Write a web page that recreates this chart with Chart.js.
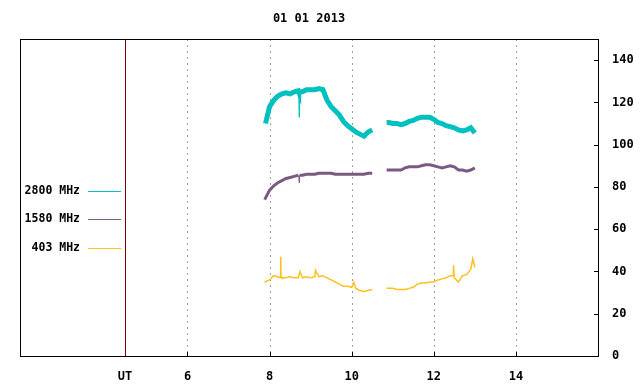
<!DOCTYPE html>
<html>
<head>
<meta charset="utf-8">
<script src="https://cdn.jsdelivr.net/npm/chart.js@4.4.0/dist/chart.umd.min.js"></script>
<style>
  body { margin: 0; background: #fff; }
</style>
</head>
<body>
<canvas id="radioChart" width="640" height="384"></canvas>
<script>
const chartTitle = '01 01 2013';

// x ticks (UT hours); first one is the "UT" marker line
const utHour = 4.48;
const xTicks = [utHour, 6, 8, 10, 12, 14];
const yTicks = [0, 20, 40, 60, 80, 100, 120, 140];

const labels = ['2800 MHz', '1580 MHz', '403 MHz'];
const colors = ['#00c0c0', '#7a5a80', '#ffc020'];

// 2800 MHz
const t2800 = [7.9, 8.0, 8.1, 8.2, 8.3, 8.4, 8.5, 8.6, 8.7, 8.71, 8.72, 8.73, 8.8, 8.9, 9.0, 9.1, 9.2, 9.3, 9.4, 9.5, 9.6, 9.7, 9.8, 9.9, 10.0, 10.1, 10.2, 10.3, 10.4, 10.5,
  10.7,
  10.85, 10.9, 11.0, 11.1, 11.2, 11.3, 11.4, 11.5, 11.6, 11.7, 11.8, 11.9, 12.0, 12.1, 12.2, 12.3, 12.4, 12.5, 12.6, 12.7, 12.8, 12.9, 13.0];
const v2800 = [110, 118, 121, 123, 124, 124.5, 124, 125, 125.5, 125, 113, 125, 125, 126, 126, 126, 126.5, 126, 121, 118, 116, 114, 111, 109, 107.5, 106, 105, 104, 106, 107,
  null,
  110.5, 110.5, 110, 110, 109.5, 110, 111, 111.5, 112.5, 113, 113, 113, 112, 110.5, 110, 109, 108.5, 108, 107, 106.5, 107, 108, 105.5];

// 1580 MHz
const t1580 = [7.88, 8.0, 8.1, 8.2, 8.3, 8.4, 8.5, 8.6, 8.7, 8.71, 8.72, 8.73, 8.8, 8.9, 9.0, 9.1, 9.2, 9.3, 9.4, 9.5, 9.6, 9.7, 9.8, 9.9, 10.0, 10.1, 10.2, 10.3, 10.4, 10.5,
  10.7,
  10.85, 11.0, 11.1, 11.2, 11.3, 11.4, 11.5, 11.6, 11.7, 11.8, 11.9, 12.0, 12.1, 12.2, 12.3, 12.4, 12.5, 12.6, 12.7, 12.8, 12.9, 13.0];
const v1580 = [74, 78.5, 80.5, 82, 83, 84, 84.5, 85, 85.5, 85.5, 82, 85.5, 85.5, 86, 86, 86, 86.5, 86.5, 86.5, 86.5, 86, 86, 86, 86, 86, 86, 86, 86, 86.5, 86.5,
  null,
  88, 88, 88, 88, 89, 89.5, 89.5, 89.5, 90, 90.5, 90.5, 90, 89.5, 89, 89.5, 90, 89.5, 88, 88, 87.5, 88, 89];

// 403 MHz
const t403 = [7.88, 8.0, 8.1, 8.2, 8.26, 8.27, 8.28, 8.3, 8.4, 8.5, 8.6, 8.7, 8.74, 8.8, 8.9, 9.0, 9.1, 9.12, 9.2, 9.3, 9.4, 9.5, 9.6, 9.7, 9.8, 9.9, 10.0, 10.05, 10.1, 10.2, 10.3, 10.4, 10.5,
  10.7,
  10.85, 11.0, 11.1, 11.2, 11.3, 11.4, 11.5, 11.6, 11.7, 11.8, 11.9, 12.0, 12.1, 12.2, 12.3, 12.4, 12.47, 12.48, 12.5, 12.6, 12.7, 12.8, 12.9, 12.95, 13.0];
const v403 = [35, 36, 38, 37.5, 37, 47, 37.5, 37, 37, 37.5, 37, 37, 40, 37, 37.5, 37, 37.5, 40.5, 37.5, 38, 37, 36, 35, 34, 33, 33, 32.5, 35, 32, 31, 30.5, 31, 31.5,
  null,
  32, 32, 31.5, 31.5, 31.5, 32, 32.5, 34, 34.5, 34.5, 35, 35, 36, 36.5, 37, 38, 38, 43, 37, 35, 38, 38.5, 41, 46, 42];

const toPoints = (ts, vs) => ts.map((t, i) => ({ x: t, y: vs[i] }));

// spikes (steep, short segments) are drawn thin, the noisy band thick
const bandWidth = (wide) => (c) => {
    const dy = Math.abs(c.p1.parsed.y - c.p0.parsed.y);
    const dx = Math.abs(c.p1.parsed.x - c.p0.parsed.x) || 0.001;
    return dy / dx > 150 ? 1 : wide;
};

const monoFont = { family: 'DejaVu Sans Mono', size: 12, weight: 'bold' };

// grid, frame, title and legend in the gnuplot look
const gnuplotLook = {
    id: 'gnuplotLook',
    beforeDatasetsDraw(chart) {
        const { ctx, chartArea: a, scales } = chart;
        ctx.save();
        ctx.lineWidth = 1;
        xTicks.forEach(v => {
            const x = Math.round(scales.x.getPixelForValue(v)) + 0.5;
            ctx.beginPath();
            if (v === utHour) {
                ctx.strokeStyle = '#800000';
                ctx.setLineDash([]);
            } else {
                ctx.strokeStyle = '#a0a0a0';
                ctx.setLineDash([2, 4]);
            }
            ctx.moveTo(x, a.top);
            ctx.lineTo(x, a.bottom);
            ctx.stroke();
        });
        ctx.restore();
    },
    afterDraw(chart) {
        const { ctx, chartArea: a, scales } = chart;
        ctx.save();
        ctx.strokeStyle = '#000';
        ctx.lineWidth = 1;
        ctx.setLineDash([]);
        ctx.strokeRect(Math.round(a.left) + 0.5, Math.round(a.top) + 0.5,
            Math.round(a.right - a.left), Math.round(a.bottom - a.top));

        // inward ticks
        ctx.beginPath();
        yTicks.forEach(v => {
            const y = Math.round(scales.y.getPixelForValue(v)) + 0.5;
            ctx.moveTo(a.right - 4, y);
            ctx.lineTo(a.right, y);
        });
        xTicks.forEach(v => {
            if (v === utHour) return;
            const x = Math.round(scales.x.getPixelForValue(v)) + 0.5;
            ctx.moveTo(x, a.bottom - 4);
            ctx.lineTo(x, a.bottom);
        });
        ctx.stroke();

        ctx.fillStyle = '#000';
        ctx.font = 'bold 12px "DejaVu Sans Mono"';
        ctx.textBaseline = 'middle';
        ctx.textAlign = 'center';
        ctx.fillText(chartTitle, (a.left + a.right) / 2, 19);

        // legend
        const legendY = [191, 219, 248];
        ctx.font = 'bold 11.5px "DejaVu Sans Mono"';
        ctx.textAlign = 'right';
        labels.forEach((lab, i) => {
            ctx.fillStyle = '#000';
            ctx.fillText(lab, 80, legendY[i]);
            ctx.strokeStyle = colors[i];
            ctx.beginPath();
            ctx.moveTo(88, legendY[i] + 0.5);
            ctx.lineTo(121, legendY[i] + 0.5);
            ctx.stroke();
        });
        ctx.restore();
    }
};

const ctx = document.getElementById('radioChart').getContext('2d');

new Chart(ctx, {
    type: 'line',
    data: {
        datasets: [
            { label: labels[0], data: toPoints(t2800, v2800), borderColor: colors[0], borderWidth: 5,
              segment: { borderWidth: bandWidth(5) } },
            { label: labels[1], data: toPoints(t1580, v1580), borderColor: colors[1], borderWidth: 3,
              segment: { borderWidth: bandWidth(3) } },
            { label: labels[2], data: toPoints(t403, v403), borderColor: colors[2], borderWidth: 1.5 }
        ]
    },
    options: {
        responsive: false,
        animation: false,
        spanGaps: false,
        elements: {
            point: { radius: 0 },
            line: { tension: 0 }
        },
        layout: {
            padding: { left: 20, top: 39, right: 0, bottom: 0 }
        },
        plugins: {
            legend: { display: false },
            tooltip: { enabled: false },
            title: { display: false }
        },
        scales: {
            x: {
                type: 'linear',
                position: 'bottom',
                min: 1.92,
                max: 16,
                afterBuildTicks: (scale) => { scale.ticks = xTicks.map(v => ({ value: v })); },
                afterFit: (scale) => { scale.height = 28; },
                grid: { display: false },
                border: { display: false },
                ticks: {
                    color: '#000',
                    font: monoFont,
                    padding: 6,
                    maxRotation: 0,
                    autoSkip: false,
                    callback: (v) => v === utHour ? 'UT' : String(v)
                }
            },
            y: {
                type: 'linear',
                position: 'right',
                min: 0,
                max: 150,
                afterBuildTicks: (scale) => { scale.ticks = yTicks.map(v => ({ value: v })); },
                afterFit: (scale) => { scale.width = 42; },
                grid: { display: false },
                border: { display: false },
                ticks: {
                    color: '#000',
                    font: monoFont,
                    padding: 6
                }
            }
        }
    },
    plugins: [gnuplotLook]
});
</script>
</body>
</html>
